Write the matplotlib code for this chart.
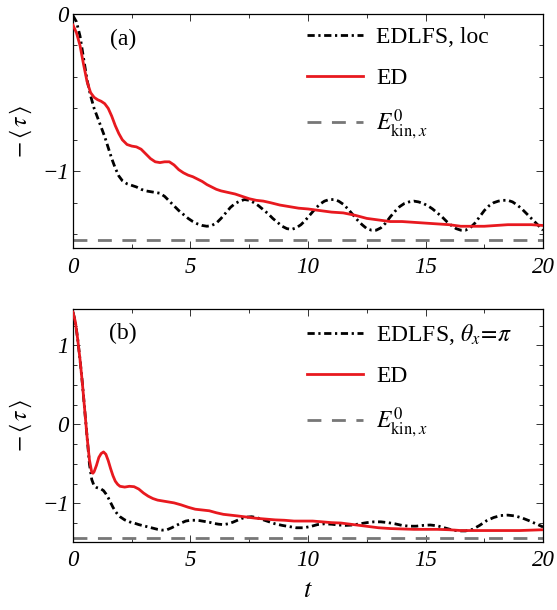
import matplotlib
matplotlib.use("Agg")
import matplotlib.pyplot as plt
import matplotlib.ticker as mticker

plt.rcParams["font.family"] = "serif"
plt.rcParams["font.serif"] = ["Liberation Serif", "DejaVu Serif"]
plt.rcParams["mathtext.fontset"] = "stix"

RED = "#E8191F"
GRAY = "#777777"

# ---- panel (a) data ----
t_ed_a = [0.0, 0.15, 0.3, 0.45, 0.6, 0.75, 0.9, 1.05, 1.2, 1.35, 1.5, 1.65, 1.8, 1.95, 2.1, 2.3,
          2.5, 2.7, 2.9, 3.1, 3.3, 3.5, 3.7, 3.9, 4.1, 4.3, 4.5, 4.7, 4.9, 5.1, 5.3, 5.5, 5.7, 5.9,
          6.1, 6.3, 6.6, 6.9, 7.2, 7.5, 7.8, 8.1, 8.4, 8.8, 9.2, 9.6, 10.0, 10.5, 11.0, 11.5, 12.0,
          12.5, 13.0, 13.5, 14.0, 14.5, 15.0, 15.5, 16.0, 16.5, 17.0, 17.5, 18.0, 18.5, 19.0, 19.5, 20.0]
ed_a = [-0.07, -0.12, -0.20, -0.32, -0.43, -0.50, -0.53, -0.545, -0.555, -0.57, -0.60, -0.65, -0.71,
        -0.76, -0.80, -0.83, -0.84, -0.845, -0.86, -0.89, -0.92, -0.94, -0.945, -0.94, -0.94, -0.96,
        -0.99, -1.01, -1.025, -1.035, -1.05, -1.065, -1.085, -1.10, -1.115, -1.125, -1.135, -1.145,
        -1.16, -1.175, -1.185, -1.19, -1.20, -1.215, -1.225, -1.235, -1.24, -1.25, -1.26, -1.265,
        -1.28, -1.30, -1.31, -1.32, -1.32, -1.325, -1.33, -1.335, -1.34, -1.35, -1.35, -1.35, -1.345,
        -1.34, -1.34, -1.34, -1.345]

t_lfs_a = [0.0, 0.15, 0.3, 0.45, 0.6, 0.75, 0.9, 1.05, 1.2, 1.35, 1.5, 1.65, 1.8, 1.95, 2.1, 2.3,
           2.5, 2.7, 2.9, 3.1, 3.3, 3.5, 3.7, 3.9, 4.1, 4.3, 4.5, 4.7, 4.9, 5.1, 5.3, 5.5, 5.7, 5.9,
           6.1, 6.3, 6.5, 6.7, 6.9, 7.1, 7.3, 7.5, 7.7, 7.9, 8.1, 8.3, 8.5, 8.7, 8.9, 9.1, 9.3, 9.5,
           9.7, 9.9, 10.1, 10.3, 10.5, 10.7, 10.9, 11.1, 11.3, 11.5, 11.7, 11.9, 12.1, 12.3, 12.5,
           12.7, 12.9, 13.1, 13.3, 13.5, 13.7, 13.9, 14.1, 14.3, 14.5, 14.7, 14.9, 15.1, 15.3, 15.5,
           15.7, 15.9, 16.1, 16.3, 16.5, 16.7, 16.9, 17.1, 17.3, 17.5, 17.7, 17.9, 18.1, 18.3, 18.5,
           18.7, 18.9, 19.1, 19.3, 19.5, 19.7, 19.9, 20.0]
lfs_a = [-0.01, -0.05, -0.14, -0.28, -0.42, -0.52, -0.60, -0.66, -0.72, -0.78, -0.85, -0.92, -0.98,
         -1.03, -1.06, -1.08, -1.09, -1.10, -1.115, -1.125, -1.13, -1.135, -1.14, -1.16, -1.19,
         -1.22, -1.25, -1.275, -1.30, -1.32, -1.335, -1.345, -1.35, -1.345, -1.33, -1.30, -1.265,
         -1.23, -1.205, -1.19, -1.18, -1.185, -1.20, -1.22, -1.245, -1.27, -1.30, -1.325, -1.35,
         -1.365, -1.37, -1.36, -1.34, -1.31, -1.275, -1.24, -1.21, -1.19, -1.18, -1.18, -1.19,
         -1.21, -1.24, -1.275, -1.31, -1.34, -1.365, -1.375, -1.375, -1.36, -1.33, -1.29, -1.255,
         -1.225, -1.205, -1.195, -1.19, -1.195, -1.205, -1.22, -1.24, -1.265, -1.29, -1.32, -1.345,
         -1.365, -1.375, -1.375, -1.36, -1.33, -1.29, -1.25, -1.22, -1.20, -1.19, -1.185, -1.185,
         -1.195, -1.215, -1.24, -1.27, -1.30, -1.33, -1.36, -1.375]

# ---- panel (b) data ----
t_ed_b = [0.0, 0.1, 0.2, 0.3, 0.4, 0.5, 0.6, 0.7, 0.8, 0.85, 0.9, 1.0, 1.1, 1.2, 1.3, 1.4, 1.5, 1.6,
          1.7, 1.8, 1.9, 2.0, 2.2, 2.4, 2.6, 2.8, 3.0, 3.2, 3.4, 3.6, 3.8, 4.0, 4.3, 4.6, 4.9, 5.2,
          5.5, 5.8, 6.1, 6.4, 6.7, 7.0, 7.4, 7.8, 8.2, 8.6, 9.0, 9.4, 9.8, 10.2, 10.6, 11.0, 11.4,
          11.8, 12.2, 12.6, 13.0, 13.5, 14.0, 14.5, 15.0, 15.5, 16.0, 16.5, 17.0, 17.5, 18.0, 18.5,
          19.0, 19.5, 20.0]
ed_b = [1.42, 1.30, 1.08, 0.82, 0.52, 0.18, -0.16, -0.45, -0.61, -0.62, -0.60, -0.52, -0.42, -0.37,
        -0.35, -0.38, -0.46, -0.56, -0.65, -0.72, -0.76, -0.785, -0.795, -0.785, -0.79, -0.82, -0.87,
        -0.91, -0.94, -0.96, -0.97, -0.98, -0.995, -1.02, -1.05, -1.075, -1.085, -1.095, -1.12,
        -1.14, -1.15, -1.16, -1.175, -1.19, -1.20, -1.21, -1.215, -1.225, -1.225, -1.225, -1.235,
        -1.245, -1.25, -1.265, -1.28, -1.295, -1.31, -1.32, -1.325, -1.33, -1.33, -1.33, -1.335,
        -1.345, -1.345, -1.345, -1.345, -1.345, -1.345, -1.34, -1.335]

t_lfs_b = [0.0, 0.1, 0.2, 0.3, 0.4, 0.5, 0.6, 0.7, 0.8, 0.9, 1.0, 1.1, 1.2, 1.3, 1.4, 1.5, 1.6, 1.7,
           1.8, 1.9, 2.0, 2.2, 2.4, 2.6, 2.8, 3.0, 3.2, 3.4, 3.6, 3.8, 4.0, 4.2, 4.4, 4.6, 4.8, 5.0,
           5.2, 5.4, 5.6, 5.8, 6.0, 6.2, 6.4, 6.6, 6.8, 7.0, 7.2, 7.4, 7.6, 7.8, 8.0, 8.3, 8.6, 8.9,
           9.2, 9.5, 9.8, 10.1, 10.4, 10.7, 11.0, 11.3, 11.6, 11.9, 12.2, 12.5, 12.8, 13.1, 13.4,
           13.7, 14.0, 14.3, 14.6, 14.9, 15.2, 15.5, 15.8, 16.1, 16.4, 16.7, 17.0, 17.3, 17.6, 17.9,
           18.2, 18.5, 18.8, 19.1, 19.4, 19.7, 20.0]
lfs_b = [1.42, 1.30, 1.08, 0.82, 0.52, 0.18, -0.16, -0.50, -0.70, -0.78, -0.80, -0.81, -0.82, -0.84,
         -0.88, -0.93, -0.99, -1.05, -1.10, -1.14, -1.17, -1.21, -1.235, -1.25, -1.27, -1.285, -1.30,
         -1.315, -1.33, -1.34, -1.335, -1.31, -1.28, -1.25, -1.225, -1.215, -1.215, -1.22, -1.23,
         -1.24, -1.255, -1.265, -1.27, -1.26, -1.24, -1.215, -1.19, -1.175, -1.17, -1.18, -1.20,
         -1.23, -1.26, -1.28, -1.295, -1.31, -1.31, -1.295, -1.27, -1.26, -1.265, -1.275, -1.28,
         -1.275, -1.26, -1.245, -1.235, -1.235, -1.245, -1.26, -1.28, -1.29, -1.29, -1.28, -1.275,
         -1.285, -1.31, -1.335, -1.35, -1.35, -1.33, -1.28, -1.22, -1.18, -1.155, -1.15, -1.16,
         -1.185, -1.22, -1.26, -1.30]

E_KIN = -1.44
T_MAX = 20

x_major = [0, 5, 10, 15, 20]
x_ticklabels = ["0", "5", "10", "15", "20"]

TICK_FS = 16.5
TEXT_FS = 17


def style_axes(ax, ymin, ymax, yticks, ylabels, yminor):
    ax.set_xlim(0, T_MAX)
    ax.set_ylim(ymin, ymax)
    ax.set_xticks(x_major)
    ax.set_xticklabels(x_ticklabels, fontstyle="italic", fontsize=TICK_FS)
    ax.xaxis.set_minor_locator(mticker.MultipleLocator(2.5))
    ax.set_yticks(yticks)
    ax.set_yticklabels(ylabels, fontstyle="italic", fontsize=TICK_FS)
    ax.yaxis.set_minor_locator(mticker.MultipleLocator(yminor))
    ax.tick_params(which="both", direction="in", top=True, right=True, width=0.7, color="#333333")
    ax.tick_params(which="major", length=5)
    ax.tick_params(axis="x", which="major", pad=6)
    ax.tick_params(axis="y", which="major", pad=3)
    ax.tick_params(which="minor", length=3)
    for s in ax.spines.values():
        s.set_linewidth(0.9)
    ax.set_ylabel(r"$-\,\langle\,\tau\,\rangle$", fontsize=TEXT_FS, labelpad=6)


fig = plt.figure(figsize=(5.57, 6.10), dpi=100)
ax_a = fig.add_axes([0.131, 0.593, 0.844, 0.384])
ax_b = fig.add_axes([0.131, 0.1115, 0.844, 0.382])

dashdot = (2.6, 1.3, 0.8, 1.3)

for ax, t_l, v_l, t_e, v_e, lab in [
    (ax_a, t_lfs_a, lfs_a, t_ed_a, ed_a, "EDLFS, loc"),
    (ax_b, t_lfs_b, lfs_b, t_ed_b, ed_b, r"EDLFS, $\theta_x\!=\!\pi$"),
]:
    ax.plot(t_l, v_l, color="black", lw=2.0, dashes=dashdot, label=lab, zorder=3)
    ax.plot(t_e, v_e, color=RED, lw=2.0, label="ED", zorder=4)
    ax.axhline(E_KIN, color=GRAY, lw=2.0, dashes=(5, 3.8), label=r"$E^{0}_{\mathrm{kin},x}$", zorder=2)
    ax.legend(loc="upper left", bbox_to_anchor=(0.497, 0.945), frameon=False, fontsize=TEXT_FS,
              handlelength=2.4, handletextpad=0.55, labelspacing=0.8, borderpad=0, borderaxespad=0)

style_axes(ax_a, -1.49, 0.0, [0, -1], ["0", "\u22121"], 0.2)
style_axes(ax_b, -1.49, 1.46, [1, 0, -1], ["1", "0", "\u22121"], 0.25)

ax_a.text(0.106, 0.89, "(a)", transform=ax_a.transAxes, fontsize=TEXT_FS, ha="center", va="center")
ax_b.text(0.106, 0.895, "(b)", transform=ax_b.transAxes, fontsize=TEXT_FS, ha="center", va="center")

ax_b.set_xlabel("$t$", fontsize=19, labelpad=6)

plt.savefig("out.png", dpi=100)
plt.close(fig)
